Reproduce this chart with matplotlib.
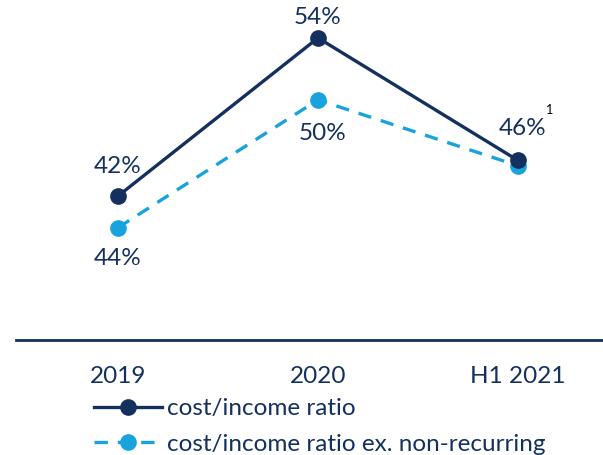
import matplotlib.pyplot as plt

# categories and values (plotted positions follow the picture, labels are the printed figures)
periods = ['2019', '2020', 'H1 2021']
ratio = [42, 54, 44.7]
ratio_ex = [39.6, 49.3, 44.3]
ratio_labels = ['42%', '54%', '46%']
ratio_ex_labels = ['44%', '50%', None]

navy = '#13305e'
sky = '#19a3dc'

plt.rcParams['font.family'] = ['Lato', 'DejaVu Sans']

fig = plt.figure(figsize=(6.03, 4.55), dpi=100)
ax = fig.add_axes([16 / 603, 115 / 455, 587 / 603, 340 / 455])

x = range(len(periods))
ax.plot(x, ratio_ex, color=sky, lw=2.4, ls=(0, (4, 3)), marker='o', ms=11,
        label='cost/income ratio ex. non-recurring', zorder=2)
ax.plot(x, ratio, color=navy, lw=2.4, marker='o', ms=11,
        label='cost/income ratio', zorder=3)

# data labels
fs = 17.5
lab_offsets = [(0, 21), (0, 15), (3, 23)]
for i, t in enumerate(ratio_labels):
    ax.annotate(t, (i, ratio[i]), xytext=lab_offsets[i], textcoords='offset points',
                ha='center', va='center', fontsize=fs, color=navy)
ex_offsets = [(0, -22), (3, -24)]
for i, t in enumerate(ratio_ex_labels):
    if t:
        ax.annotate(t, (i, ratio_ex[i]), xytext=ex_offsets[i], textcoords='offset points',
                    ha='center', va='center', fontsize=fs, color=navy)
ax.annotate('1', (2, ratio[2]), xytext=(23, 36), textcoords='offset points',
            ha='center', va='center', fontsize=9, color='black')

ax.set_xlim(-0.51, 2.425)
ax.set_ylim(31.07, 56.88)
ax.set_xticks(list(x))
ax.set_xticklabels(periods, fontsize=fs, color=navy)
ax.tick_params(axis='x', length=0, pad=19)
ax.set_yticks([])
for s in ['top', 'right', 'left']:
    ax.spines[s].set_visible(False)
ax.spines['bottom'].set_color(navy)
ax.spines['bottom'].set_linewidth(2)

h, l = ax.get_legend_handles_labels()
fig.legend(h[::-1], l[::-1], loc='upper left', bbox_to_anchor=(82 / 603, 1 - 386 / 455),
           frameon=False, fontsize=fs, labelcolor=navy, handlelength=2.8,
           handletextpad=0.2, labelspacing=0.6, borderpad=0)

fig.savefig('out.png', dpi=100)
